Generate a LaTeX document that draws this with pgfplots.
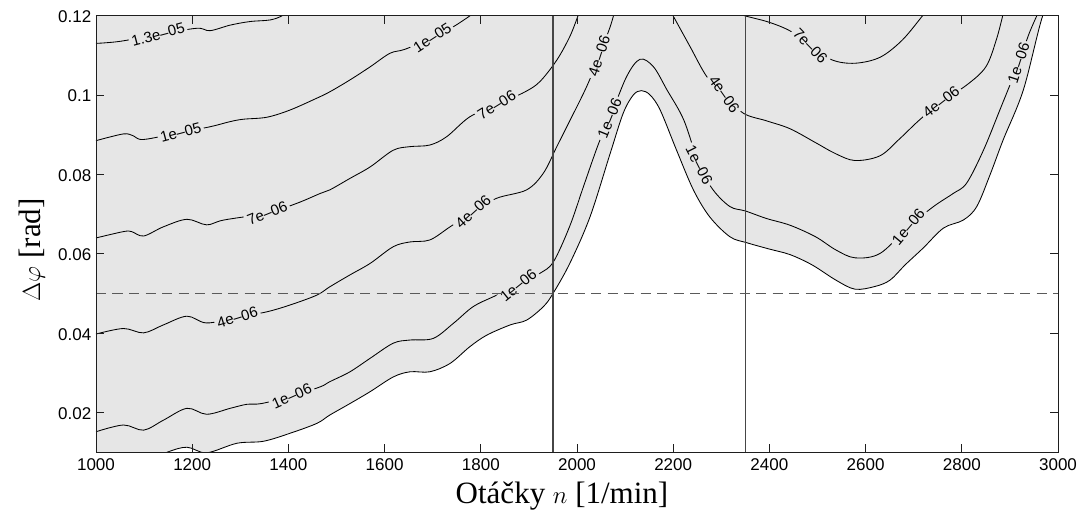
\documentclass[border=0pt]{standalone}
\usepackage{fontspec}
\setmainfont{Liberation Sans}
\newfontfamily\seriffont{Liberation Serif}
\usepackage{pgfplots}
\pgfplotsset{compat=1.18}
\definecolor{bggray}{RGB}{230,230,230}
\definecolor{axgray}{RGB}{30,30,30}
\definecolor{vgray}{RGB}{70,70,70}
\definecolor{dgray}{RGB}{90,90,90}
\tikzset{
  cline/.style={black, line width=0.85pt, smooth, tension=0.55},
  lbl/.style={fill=bggray, inner xsep=2.5pt, inner ysep=0.5pt, font=\fontsize{15}{15}\selectfont},
}
\begin{document}
\begin{tikzpicture}
\useasboundingbox (-96pt,-65.6pt) rectangle (988pt,452.4pt);
\begin{axis}[
  at={(0pt,0pt)}, anchor=south west,
  scale only axis, width=962pt, height=436.8pt,
  xmin=1000, xmax=3000, ymin=0.01, ymax=0.12,
  xtick={1000,1200,1400,1600,1800,2000,2200,2400,2600,2800,3000},
  xticklabels={1000,1200,1400,1600,1800,2000,2200,2400,2600,2800,3000},
  ytick={0.02,0.04,0.06,0.08,0.1,0.12},
  yticklabels={0.02,0.04,0.06,0.08,0.1,0.12},
  scaled ticks=false,
  tick align=inside,
  major tick length=8pt,
  tick style={axgray, line width=0.7pt},
  axis line style={axgray, line width=0.9pt},
  ticklabel style={font=\fontsize{17}{17}\selectfont},
  xticklabel style={inner sep=0pt, anchor=north, yshift=-6pt},
  yticklabel style={inner sep=0pt, anchor=east, xshift=-4.5pt, yshift=-1pt},
  axis background/.style={fill=bggray},
  axis on top,
  xlabel={\seriffont\fontsize{31}{31}\selectfont Otáčky $n$ [1/min]},
  ylabel={\seriffont\fontsize{31}{31}\selectfont $\Delta\varphi$ [rad]},
  xlabel style={at={(axis description cs:0.4844,-0.1181)}, anchor=base, inner sep=0pt},
  ylabel style={at={(axis description cs:-0.0582,0.4634)}, anchor=base, inner sep=0pt},
]
% white region below the boundary contour
\addplot[fill=white, draw=none, smooth] coordinates {
(1000,0.003) (1080,0.0065) (1147,0.0100) (1189,0.0113) (1230,0.0099) (1293,0.0123) (1348,0.0128)
(1403,0.0148) (1459,0.0173) (1486,0.0194) (1528,0.0223) (1570,0.0253) (1618,0.0290) (1653,0.0303)
(1694,0.0303) (1736,0.0324) (1777,0.0366) (1812,0.0395) (1861,0.0421) (1895,0.0433) (1930,0.0467)
(1950,0.0500) (1985,0.0576) (2027,0.0693) (2069,0.0853) (2096,0.0954) (2117,0.1000) (2134,0.1011)
(2152,0.1000) (2173,0.0962) (2207,0.0861) (2242,0.0761) (2276,0.0693) (2318,0.0643) (2353,0.0628)
(2400,0.0612) (2443,0.0598) (2489,0.0572) (2538,0.0534) (2578,0.0511) (2620,0.0518) (2651,0.0534)
(2682,0.0572) (2720,0.0615) (2762,0.0665) (2803,0.0685) (2831,0.0719) (2859,0.0800) (2886,0.0887)
(2928,0.1013) (2968,0.1199) (3000,0.1280)
} \closedcycle;
% boundary contour
\addplot[cline] coordinates {
(1000,0.003) (1080,0.0065) (1147,0.0100) (1189,0.0113) (1230,0.0099) (1293,0.0123) (1348,0.0128)
(1403,0.0148) (1459,0.0173) (1486,0.0194) (1528,0.0223) (1570,0.0253) (1618,0.0290) (1653,0.0303)
(1694,0.0303) (1736,0.0324) (1777,0.0366) (1812,0.0395) (1861,0.0421) (1895,0.0433) (1930,0.0467)
(1950,0.0500) (1985,0.0576) (2027,0.0693) (2069,0.0853) (2096,0.0954) (2117,0.1000) (2134,0.1011)
(2152,0.1000) (2173,0.0962) (2207,0.0861) (2242,0.0761) (2276,0.0693) (2318,0.0643) (2353,0.0628)
(2400,0.0612) (2443,0.0598) (2489,0.0572) (2538,0.0534) (2578,0.0511) (2620,0.0518) (2651,0.0534)
(2682,0.0572) (2720,0.0615) (2762,0.0665) (2803,0.0685) (2831,0.0719) (2859,0.0800) (2886,0.0887)
(2928,0.1013) (2968,0.1199) (3000,0.1280)
};
% 1e-06
\addplot[cline] coordinates {
(1000,0.0152) (1057,0.0169) (1099,0.0156) (1140,0.0181) (1189,0.0211) (1230,0.0196) (1279,0.0211)
(1313,0.0221) (1344,0.0223) (1407,0.0242) (1466,0.0265) (1486,0.0278) (1528,0.0303) (1570,0.0337)
(1618,0.0375) (1653,0.0383) (1701,0.0387) (1743,0.0425) (1784,0.0467) (1826,0.0492) (1878,0.0521)
(1923,0.0551) (1951,0.0580) (1985,0.0670) (2015,0.0775) (2045,0.0878) (2068,0.0941) (2103,0.1046)
(2131,0.1090) (2159,0.1071) (2187,0.1013) (2222,0.0937) (2254,0.0824) (2283,0.0761) (2318,0.0719)
(2350,0.0708) (2394,0.0689) (2443,0.0672) (2496,0.0643) (2538,0.0610) (2578,0.0590) (2630,0.0601)
(2689,0.0668) (2741,0.0719) (2782,0.0752) (2810,0.0778) (2845,0.0861) (2879,0.0962) (2918,0.1080)
(2940,0.1155) (2958,0.1205)
};
% 4e-06 (left)
\addplot[cline] coordinates {
(1000,0.0398) (1057,0.0412) (1099,0.0401) (1140,0.0421) (1189,0.0443) (1230,0.0426) (1294,0.0440)
(1355,0.0454) (1403,0.0471) (1459,0.0496) (1486,0.0517) (1528,0.0547) (1570,0.0576) (1618,0.0618)
(1653,0.0630) (1694,0.0635) (1736,0.0668) (1784,0.0706) (1833,0.0740) (1895,0.0761) (1930,0.0803)
(1958,0.0870) (1985,0.0935) (2020,0.1021) (2046,0.1098) (2069,0.1172) (2078,0.1210)
};
% 4e-06 (right)
\addplot[cline] coordinates {
(2195,0.1210) (2200,0.1199) (2235,0.1122) (2270,0.1046) (2306,0.1002) (2346,0.0954) (2394,0.0935)
(2443,0.0915) (2496,0.0880) (2538,0.0852) (2578,0.0835) (2630,0.0847) (2671,0.0890) (2710,0.0935)
(2757,0.0983) (2810,0.1025) (2850,0.1071) (2872,0.1140) (2886,0.1205)
};
% 7e-06 (left)
\addplot[cline] coordinates {
(1000,0.0640) (1057,0.0656) (1074,0.0656) (1099,0.0645) (1140,0.0668) (1189,0.0687) (1230,0.0673)
(1265,0.0685) (1356,0.0703) (1417,0.0727) (1466,0.0752) (1486,0.0761) (1528,0.0790) (1570,0.0819)
(1618,0.0861) (1653,0.0870) (1694,0.0874) (1729,0.0895) (1777,0.0945) (1833,0.0975) (1892,0.1008)
(1923,0.1034) (1958,0.1088) (1985,0.1147) (2002,0.1199) (2006,0.1210)
};
% 7e-06 (right)
\addplot[cline] coordinates {
(2345,0.1202) (2350,0.1199) (2400,0.1183) (2445,0.1160) (2485,0.1123) (2531,0.1088) (2578,0.1080)
(2630,0.1095) (2676,0.1138) (2718,0.1199) (2725,0.1210)
};
% 1e-05
\addplot[cline] coordinates {
(1000,0.0885) (1057,0.0902) (1078,0.0897) (1099,0.0888) (1176,0.0906) (1237,0.0920) (1279,0.0933)
(1306,0.0939) (1355,0.0944) (1403,0.0962) (1459,0.0992) (1486,0.1008) (1528,0.1038) (1570,0.1071)
(1611,0.1105) (1642,0.1115) (1699,0.1144) (1743,0.1172) (1777,0.1199) (1790,0.1210)
};
% 1.3e-05
\addplot[cline] coordinates {
(1000,0.1130) (1049,0.1135) (1129,0.1152) (1209,0.1168) (1237,0.1162) (1279,0.1176) (1320,0.1185)
(1362,0.1189) (1386,0.1199) (1395,0.1210)
};
% contour labels
\node[lbl, rotate=15] at (axis cs:1129,0.1152) {1.3e–05};
\node[lbl, rotate=15] at (axis cs:1176,0.0906) {1e–05};
\node[lbl, rotate=33] at (axis cs:1699,0.1144) {1e–05};
\node[lbl, rotate=22] at (axis cs:1356,0.0703) {7e–06};
\node[lbl, rotate=32] at (axis cs:1833,0.0975) {7e–06};
\node[lbl, rotate=-46] at (axis cs:2485,0.1123) {7e–06};
\node[lbl, rotate=17] at (axis cs:1294,0.0440) {4e–06};
\node[lbl, rotate=42] at (axis cs:1784,0.0706) {4e–06};
\node[lbl, rotate=72] at (axis cs:2046,0.1098) {4e–06};
\node[lbl, rotate=-55] at (axis cs:2306,0.1002) {4e–06};
\node[lbl, rotate=38] at (axis cs:2757,0.0983) {4e–06};
\node[lbl, rotate=24] at (axis cs:1407,0.0242) {1e–06};
\node[lbl, rotate=39] at (axis cs:1878,0.0521) {1e–06};
\node[lbl, rotate=68] at (axis cs:2068,0.0941) {1e–06};
\node[lbl, rotate=-63] at (axis cs:2254,0.0824) {1e–06};
\node[lbl, rotate=50] at (axis cs:2689,0.0668) {1e–06};
\node[lbl, rotate=72] at (axis cs:2918,0.1080) {1e–06};
% vertical limits and dashed level
\addplot[vgray, line width=1.1pt] coordinates {(1950,0.01) (1950,0.12)};
\addplot[vgray, line width=1.1pt] coordinates {(2350,0.01) (2350,0.12)};
\addplot[dgray, line width=1.2pt, dash pattern=on 10pt off 6.5pt] coordinates {(1000,0.05) (3000,0.05)};
\end{axis}
\end{tikzpicture}
\end{document}
